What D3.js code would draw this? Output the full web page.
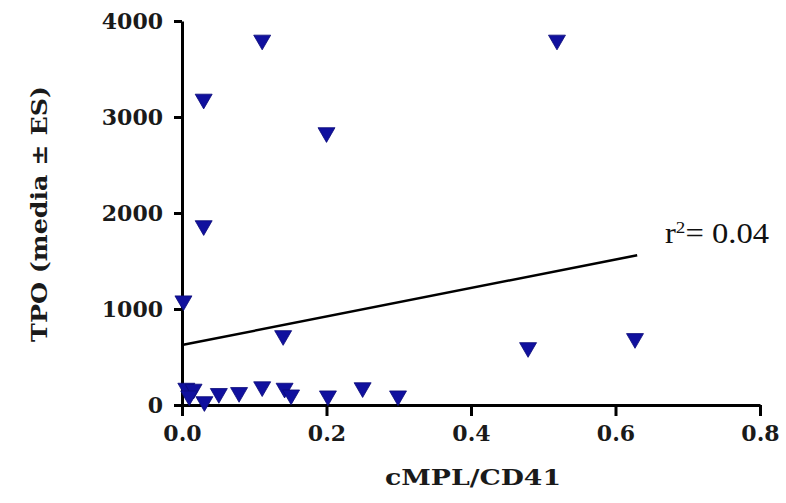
<!DOCTYPE html>
<html>
<head>
<meta charset="utf-8">
<script src="https://cdn.jsdelivr.net/npm/d3@7"></script>
<style>
  html, body { margin: 0; padding: 0; background: #ffffff; }
  svg { display: block; }
</style>
</head>
<body>
<svg id="chart" width="786" height="503"></svg>
<script>
// ---- data ----
const xValues = [0.111, 0.519, 0.030, 0.200, 0.030, 0.002, 0.140, 0.479, 0.627,
                 0.006, 0.016, 0.010, 0.031, 0.051, 0.079, 0.111, 0.142, 0.151, 0.202, 0.250, 0.299];
const yValues = [3776, 3776, 3161, 2812, 1843, 1060, 698, 573, 667,
                 150, 140, 70, 10, 95, 105, 165, 150, 80, 70, 155, 70];
const fitX = [0, 0.63];
const fitY = [625, 1560];
const xTicks = [0, 0.2, 0.4, 0.6, 0.8];
const yTicks = [0, 1000, 2000, 3000, 4000];
const xTitle = "cMPL/CD41";
const yTitle = "TPO (media \u00B1 ES)";
const r2Label = "0.04";

const svg = d3.select("#chart");
const x = d3.scaleLinear().domain([0, 0.8]).range([182, 760]);
const y = d3.scaleLinear().domain([0, 4000]).range([405, 21]);

const tickFont = "'DejaVu Serif', serif";

// regression line
svg.append("path")
  .datum(fitX.map((d, i) => [d, fitY[i]]))
  .attr("d", d3.line().x(d => x(d[0])).y(d => y(d[1])))
  .attr("fill", "none").attr("stroke", "#000").attr("stroke-width", 2.5);

// x axis
const gx = svg.append("g").attr("transform", `translate(0,${y(0)})`)
  .call(d3.axisBottom(x).tickValues(xTicks).tickFormat(d3.format(".1f")).tickSize(11).tickSizeOuter(0));
// y axis
const gy = svg.append("g").attr("transform", `translate(${x(0)},0)`)
  .call(d3.axisLeft(y).tickValues(yTicks).tickFormat(d3.format("d")).tickSize(8).tickSizeOuter(0));

[gx, gy].forEach(g => {
  g.select(".domain").attr("stroke", "#000").attr("stroke-width", 3);
  g.selectAll(".tick line").attr("stroke", "#000").attr("stroke-width", 3);
  g.selectAll(".tick text").attr("fill", "#1a1a1a")
    .style("font-family", tickFont).style("font-weight", "bold").style("font-size", "22px");
});
gx.selectAll(".tick text").attr("y", 20).attr("dy", "0.71em");
gy.selectAll(".tick text").attr("x", -19).attr("dy", "0.36em");

// markers: downward triangle centred on its bounding box
const triDown = {
  draw(ctx, size) {
    const w = Math.sqrt(size * 4 / Math.sqrt(3));
    const h = w * Math.sqrt(3) / 2;
    ctx.moveTo(-w / 2, -h / 2);
    ctx.lineTo(w / 2, -h / 2);
    ctx.lineTo(0, h / 2);
    ctx.closePath();
  }
};
svg.append("g").selectAll("path")
  .data(xValues.map((d, i) => [d, yValues[i]]))
  .join("path")
  .attr("d", d3.symbol().type(triDown).size(125))
  .attr("transform", d => `translate(${x(d[0])},${y(d[1])})`)
  .attr("fill", "#10109e").attr("stroke", "#0a0a78").attr("stroke-width", 0.8);

// axis titles
svg.append("text")
  .attr("x", 473).attr("y", 485).attr("text-anchor", "middle")
  .attr("textLength", 176).attr("lengthAdjust", "spacingAndGlyphs")
  .style("font-family", tickFont).style("font-weight", "bold").style("font-size", "23px")
  .attr("fill", "#1a1a1a").text(xTitle);

svg.append("text")
  .attr("transform", "translate(47,214) rotate(-90)").attr("text-anchor", "middle")
  .attr("textLength", 256).attr("lengthAdjust", "spacingAndGlyphs")
  .style("font-family", tickFont).style("font-weight", "bold").style("font-size", "23px")
  .attr("fill", "#1a1a1a").text(yTitle);

// r^2 annotation
const r2 = svg.append("text")
  .attr("x", 665).attr("y", 243)
  .attr("textLength", 104).attr("lengthAdjust", "spacingAndGlyphs")
  .style("font-family", "'Liberation Serif', 'Times New Roman', serif").style("font-size", "29px")
  .attr("fill", "#111");
r2.append("tspan").text("r");
r2.append("tspan").attr("dy", -10).style("font-size", "17px").text("2");
r2.append("tspan").attr("dy", 10).text("= " + r2Label);
</script>
</body>
</html>
